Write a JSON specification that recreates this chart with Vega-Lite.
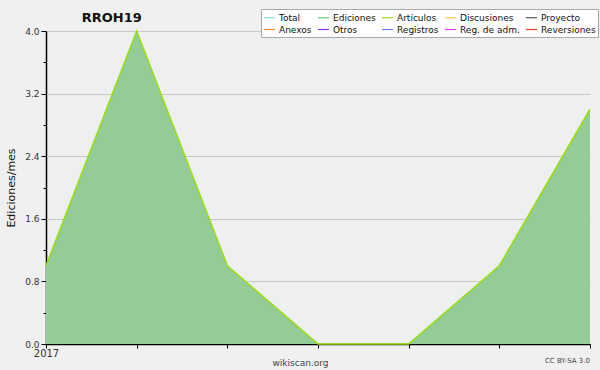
{
  "$schema": "https://vega.github.io/schema/vega-lite/v6.json",
  "width": 544,
  "height": 313,
  "autosize": {"type": "none"},
  "padding": {"left": 46, "top": 31, "right": 10, "bottom": 26},
  "background": "#f0f0f0",
  "title": {"text": "RROH19", "anchor": "start", "dx": 76, "offset": 0, "dy": 16, "fontSize": 13, "fontWeight": "bold", "font": "DejaVu Sans", "color": "#111111"},
  "config": {
    "view": {"stroke": null, "fill": "#eeeff1"},
    "font": "DejaVu Sans"
  },
  "data": {
    "values": [
      {"mes": 0, "ediciones": 1, "serie": "Artículos"},
      {"mes": 1, "ediciones": 4, "serie": "Artículos"},
      {"mes": 2, "ediciones": 1, "serie": "Artículos"},
      {"mes": 3, "ediciones": 0, "serie": "Artículos"},
      {"mes": 4, "ediciones": 0, "serie": "Artículos"},
      {"mes": 5, "ediciones": 1, "serie": "Artículos"},
      {"mes": 6, "ediciones": 3, "serie": "Artículos"}
    ]
  },
  "encoding": {
    "x": {
      "field": "mes", "type": "quantitative",
      "scale": {"domain": [0, 6], "nice": false, "zero": false},
      "axis": {
        "values": [0, 1, 2, 3, 4, 5, 6],
        "labelExpr": "datum.value == 0 ? '2017' : ''",
        "grid": false, "domainColor": "#000000", "domainWidth": 1.5, "tickColor": "#000000", "tickSize": 4,
        "labelFontSize": 10, "labelColor": "#333333", "labelPadding": 0, "labelFlush": false,
        "title": "wikiscan.org", "titleFontSize": 9, "titleFontWeight": "normal", "titleColor": "#444444", "titlePadding": 0, "titleX": 254
      }
    },
    "y": {
      "field": "ediciones", "type": "quantitative",
      "scale": {"domain": [0, 4], "nice": false},
      "axis": {
        "values": [0, 0.4, 0.8, 1.2, 1.6, 2.0, 2.4, 2.8, 3.2, 3.6, 4.0],
        "labelExpr": "round(datum.value*10) % 8 == 0 ? format(datum.value, '.1f') : ''",
        "grid": true,
        "gridColor": "#c8c8c8",
        "gridOpacity": {"condition": {"test": "round(datum.value*10) % 8 == 0", "value": 1}, "value": 0},
        "tickSize": {"condition": {"test": "round(datum.value*10) % 8 == 0", "value": 5}, "value": 3},
        "tickColor": "#000000", "domainColor": "#000000", "domainWidth": 1.5,
        "labelFontSize": 9, "labelColor": "#333333", "labelPadding": 2,
        "title": "Ediciones/mes", "titleFontSize": 11, "titleFontWeight": "normal", "titleColor": "#111111", "titlePadding": 8
      }
    }
  },
  "layer": [
    {
      "mark": {"type": "area", "color": "#93cc97", "opacity": 1}
    },
    {
      "mark": {"type": "line", "strokeWidth": 1.5},
      "encoding": {
        "color": {
          "field": "serie", "type": "nominal",
          "scale": {
            "domain": ["Total", "Ediciones", "Artículos", "Discusiones", "Proyecto", "Anexos", "Otros", "Registros", "Reg. de adm.", "Reversiones"],
            "range": ["#88dde6", "#66cc77", "#99dd11", "#ffcc33", "#555555", "#ff8844", "#8833ee", "#7777ff", "#ee44ee", "#ee3333"]
          },
          "legend": {
            "title": null, "orient": "none", "legendX": 215, "legendY": -22, "direction": "horizontal", "columns": 5,
            "symbolType": "stroke", "symbolSize": 120, "symbolStrokeWidth": 1.2, "symbolOpacity": 1,
            "labelFontSize": 9, "labelColor": "#111111", "labelOffset": 3, "columnPadding": 3, "rowPadding": 0,
            "fillColor": "#ffffff", "strokeColor": "#aaaaaa", "padding": 2
          }
        }
      }
    },
    {
      "data": {"values": [{"mes": 6, "ediciones": -0.22, "texto": "CC BY-SA 3.0"}]},
      "mark": {"type": "text", "align": "right", "baseline": "middle", "fontSize": 7, "color": "#444444", "clip": false},
      "encoding": {"text": {"field": "texto"}}
    }
  ]
}
